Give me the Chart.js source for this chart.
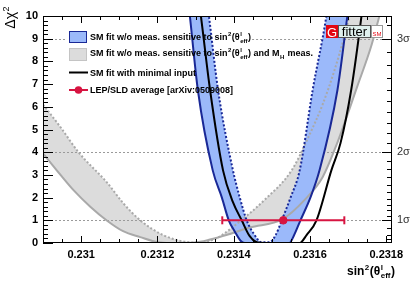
<!DOCTYPE html>
<html>
<head>
<meta charset="utf-8">
<script src="https://cdn.jsdelivr.net/npm/chart.js@4.4.0/dist/chart.umd.min.js"></script>
<style>
  html, body { margin: 0; padding: 0; background: #fff; }
  #wrap { width: 415px; height: 281px; }
</style>
</head>
<body>
<div id="wrap"><canvas id="chi2Chart" width="415" height="281"></canvas></div>
<script>
// Delta chi2 scans vs sin^2(theta_eff^l)
const xTicks = [0.231, 0.2312, 0.2314, 0.2316, 0.2318];
const yTicks = [0, 1, 2, 3, 4, 5, 6, 7, 8, 9, 10];
const sigmaTicks = [1, 4, 9];
const sigmaLabels = ['1σ', '2σ', '3σ'];

// grey band: SM fit w/o meas. sensitive to sin2 and MH meas.
const greyOuterX = [0.2309, 0.230946, 0.230980, 0.231024, 0.231069, 0.231110, 0.231155, 0.231202, 0.231233, 0.231298, 0.231338, 0.231390, 0.231442, 0.231528, 0.231586, 0.231633, 0.231669, 0.231724, 0.231761, 0.231782, 0.231802];
const greyOuterY = [3.95, 3.0, 2.33, 1.6, 0.97, 0.52, 0.26, 0.03, 0, 0.02, 0.15, 0.4, 0.68, 1.05, 1.9, 2.9, 4.3, 6.9, 8.7, 10, 11.2];
const greyInnerX = [0.2309, 0.230946, 0.230993, 0.231069, 0.231110, 0.231155, 0.231215, 0.231278, 0.231312, 0.231356, 0.231416, 0.231481, 0.231552, 0.231594, 0.231633, 0.231664, 0.231690, 0.231703, 0.231716];
const greyInnerY = [6.1, 5.1, 4.0, 2.64, 1.76, 1.0, 0.35, 0.04, 0.02, 0.22, 0.95, 1.9, 3.2, 4.6, 6.1, 7.6, 9.1, 10, 11];

// blue band: SM fit w/o meas. sensitive to sin2
const blueOuterX = [0.231278, 0.231285, 0.231306, 0.231345, 0.231369, 0.231387, 0.231403, 0.231418, 0.231429, 0.231546, 0.231557, 0.231575, 0.231601, 0.231625, 0.231672, 0.231698, 0.231706];
const blueOuterY = [11, 10, 6.74, 3.2, 2.0, 1.0, 0.5, 0.1, 0, 0, 0.3, 1.0, 2.0, 3.2, 6.74, 10, 11];
const blueInnerX = [0.231327, 0.231335, 0.231359, 0.231398, 0.231416, 0.231434, 0.231453, 0.231473, 0.231494, 0.231510, 0.231526, 0.231549, 0.231573, 0.231607, 0.231643, 0.231651];
const blueInnerY = [11, 10, 6.74, 3.2, 2.0, 1.0, 0.4, 0.03, 0.03, 0.35, 1.0, 2.0, 3.2, 6.74, 10, 11];

// black: SM fit with minimal input
const minimalX = [0.231306, 0.231314, 0.231338, 0.231372, 0.231398, 0.231421, 0.231442, 0.231463, 0.231481, 0.231573, 0.231591, 0.231617, 0.231656, 0.231680, 0.231708, 0.231735, 0.231742];
const minimalY = [11, 10, 6.74, 3.2, 1.8, 1.0, 0.3, 0.02, 0, 0, 0.35, 1.0, 3.2, 4.4, 6.74, 10, 11];

// LEP/SLD average
const lepSldX = [0.23153];
const lepSldErr = [0.00016];
const lepSldY = [1];

const yMax = 10;
const greyFill = '#dcdcdc';
const greyLine = '#a9a9a9';
const blueFill = 'rgb(155,185,250)';
const blueLine = 'rgb(25,40,150)';
const red = 'rgb(215,20,65)';
const fontFam = "'Liberation Sans', Arial, sans-serif";

const toPoints = (xs, ys) => xs.map((x, i) => ({ x: x, y: ys[i] }));

// inner edge of a band, closed off above the frame so the fill reaches the top
const bandEdge = (innerX, innerY, outerX) => {
    const pts = toPoints(innerX, innerY);
    const lift = yMax + 1;
    if (outerX[0] < innerX[0]) pts.unshift({ x: outerX[0], y: lift });
    if (outerX[outerX.length - 1] > innerX[innerX.length - 1]) pts.push({ x: outerX[outerX.length - 1], y: lift });
    return pts;
};

// text with super/subscripts, returns end x
function drawRich(ctx, parts, x, y, size, weight, measureOnly) {
    for (const p of parts) {
        if (typeof p === 'string') {
            ctx.font = `${weight} ${size}px ${fontFam}`;
            if (!measureOnly) ctx.fillText(p, x, y);
            x += ctx.measureText(p).width;
        } else {
            ctx.font = `${weight} ${Math.round(size * 0.65)}px ${fontFam}`;
            let w = 0;
            if (p.sup) {
                if (!measureOnly) ctx.fillText(p.sup, x + 0.5, y - size * 0.42);
                w = ctx.measureText(p.sup).width;
            }
            if (p.sub) {
                if (!measureOnly) ctx.fillText(p.sub, x + 0.5, y + size * 0.28);
                w = Math.max(w, ctx.measureText(p.sub).width);
            }
            x += w + 1;
        }
    }
    return x;
}

const sinTheta = ['sin', { sup: '2' }, '(θ', { sup: 'l', sub: 'eff' }, ')'];
const legendRows = [
    ['SM fit w/o meas. sensitive to '].concat(sinTheta),
    ['SM fit w/o meas. sensitive to '].concat(sinTheta, [' and M', { sub: 'H' }, ' meas.']),
    ['SM fit with minimal input'],
    ['LEP/SLD average [arXiv:0509008]']
];
const legendBase = [40, 56, 76, 93];
const legendSym = 69, legendText = 90;

// dashed 1/2/3 sigma lines, drawn just above the grey band
const sigmaLines = {
    id: 'sigmaLines',
    afterDatasetDraw(chart, args) {
        if (args.index !== 1) return;
        const { ctx, chartArea: a, scales: { y } } = chart;
        const row1End = drawRich(ctx, legendRows[0], legendText, 0, 9, 'bold', true);
        ctx.save();
        ctx.strokeStyle = '#9a9a9a';
        ctx.lineWidth = 1;
        ctx.setLineDash([2, 2]);
        sigmaTicks.forEach(v => {
            const py = Math.round(y.getPixelForValue(v)) + 0.5;
            ctx.beginPath();
            if (v === 9) {
                ctx.moveTo(a.left, py); ctx.lineTo(legendSym - 2, py);
                ctx.moveTo(row1End + 1, py); ctx.lineTo(a.right, py);
            } else {
                ctx.moveTo(a.left, py); ctx.lineTo(a.right, py);
            }
            ctx.stroke();
        });
        ctx.restore();
    }
};

const decor = {
    id: 'decor',
    afterDraw(chart) {
        const { ctx, chartArea: a, scales: { x, y } } = chart;
        ctx.save();
        // frame
        ctx.strokeStyle = '#000';
        ctx.lineWidth = 1;
        ctx.strokeRect(a.left + 0.5, a.top + 0.5, a.right - a.left - 1, a.bottom - a.top - 1);
        ctx.beginPath();
        // x ticks (bottom and top)
        const xs = 0.00005;
        for (let k = Math.ceil(x.min / xs - 1e-6); k * xs <= x.max + 1e-9; k++) {
            const px = Math.round(x.getPixelForValue(k * xs)) + 0.5;
            const len = (k % 4 === 0) ? 7 : 4;
            ctx.moveTo(px, a.bottom); ctx.lineTo(px, a.bottom - len);
            ctx.moveTo(px, a.top); ctx.lineTo(px, a.top + len);
        }
        // left ticks
        for (let k = 0; k <= 50; k++) {
            const py = Math.round(y.getPixelForValue(k / 5)) + 0.5;
            const len = (k % 5 === 0) ? 10 : 5;
            ctx.moveTo(a.left, py); ctx.lineTo(a.left + len, py);
        }
        // right ticks in units of sigma
        for (let k = 2; k <= 32; k++) {
            if (k < 10 && k % 2) continue;
            const s = k / 10;
            if (s * s > 10) break;
            const py = Math.round(y.getPixelForValue(s * s)) + 0.5;
            const len = (k % 10 === 0) ? 10 : 5;
            ctx.moveTo(a.right, py); ctx.lineTo(a.right - len, py);
        }
        ctx.stroke();

        // legend
        ctx.fillStyle = blueFill;
        ctx.fillRect(legendSym, 31, 18, 12);
        ctx.strokeStyle = blueLine;
        ctx.strokeRect(legendSym + 0.5, 31.5, 17, 11);
        ctx.fillStyle = greyFill;
        ctx.fillRect(legendSym, 48, 18, 13);
        ctx.strokeStyle = '#c4c4c4';
        ctx.strokeRect(legendSym + 0.5, 48.5, 17, 12);
        ctx.lineWidth = 2;
        ctx.strokeStyle = '#000';
        ctx.beginPath(); ctx.moveTo(legendSym, 72.5); ctx.lineTo(legendSym + 19, 72.5); ctx.stroke();
        ctx.strokeStyle = red;
        ctx.beginPath(); ctx.moveTo(legendSym, 90); ctx.lineTo(legendSym + 19, 90); ctx.stroke();
        ctx.fillStyle = red;
        ctx.beginPath(); ctx.arc(legendSym + 9.5, 90, 3.8, 0, Math.PI * 2); ctx.fill();
        ctx.fillStyle = '#000';
        ctx.textBaseline = 'alphabetic';
        legendRows.forEach((row, i) => drawRich(ctx, row, legendText, legendBase[i], 9, 'bold'));

        // axis titles
        const xtW = drawRich(ctx, sinTheta, 0, 0, 12, 'bold', true);
        drawRich(ctx, sinTheta, 395 - xtW, 275, 12, 'bold');
        ctx.save();
        ctx.translate(15, 6);
        ctx.rotate(-Math.PI / 2);
        const ytW = drawRich(ctx, ['Δχ', { sup: '2' }], 0, 0, 14, 'normal', true);
        drawRich(ctx, ['Δχ', { sup: '2' }], -ytW, 0, 14, 'normal');
        ctx.restore();

        // Gfitter logo
        const gx = a.right - 66, gy = 25;
        ctx.lineWidth = 1;
        ctx.fillStyle = '#e30613';
        ctx.fillRect(gx, gy, 12, 13);
        ctx.fillStyle = '#dff0ee';
        ctx.fillRect(gx + 12, gy, 33, 13);
        ctx.strokeStyle = '#555';
        ctx.strokeRect(gx + 12.5, gy + 0.5, 32, 12);
        ctx.fillStyle = '#fff';
        ctx.fillRect(gx + 45, gy, 12, 13);
        ctx.strokeStyle = '#999';
        ctx.strokeRect(gx + 45.5, gy + 0.5, 11, 12);
        ctx.textAlign = 'center';
        ctx.fillStyle = '#fff';
        ctx.font = `13px ${fontFam}`;
        ctx.fillText('G', gx + 6, gy + 11.5);
        ctx.fillStyle = '#000';
        ctx.fillText('fitter', gx + 28.5, gy + 11);
        ctx.fillStyle = '#e30613';
        ctx.font = `6px ${fontFam}`;
        ctx.fillText('SM', gx + 51, gy + 11);
        ctx.restore();
    }
};

const plain = { pointRadius: 0, pointHoverRadius: 0, cubicInterpolationMode: 'monotone', fill: false };

new Chart(document.getElementById('chi2Chart'), {
    type: 'line',
    data: {
        datasets: [
            // 0,1: grey band fill
            { ...plain, data: toPoints(greyOuterX, greyOuterY), borderWidth: 0, order: 10 },
            { ...plain, data: bandEdge(greyInnerX, greyInnerY, greyOuterX), borderWidth: 0, fill: 0, backgroundColor: greyFill, order: 9 },
            // 2,3: blue band fill
            { ...plain, data: toPoints(blueOuterX, blueOuterY), borderWidth: 0, order: 8 },
            { ...plain, data: bandEdge(blueInnerX, blueInnerY, blueOuterX), borderWidth: 0, fill: 2, backgroundColor: blueFill, order: 7 },
            // grey edges
            { ...plain, data: toPoints(greyOuterX, greyOuterY), borderColor: greyLine, borderWidth: 2, order: 6 },
            { ...plain, data: toPoints(greyInnerX, greyInnerY), borderColor: greyLine, borderWidth: 2, borderDash: [2, 2], order: 5 },
            // blue edges
            { ...plain, data: toPoints(blueOuterX, blueOuterY), borderColor: blueLine, borderWidth: 2, order: 4 },
            { ...plain, data: toPoints(blueInnerX, blueInnerY), borderColor: blueLine, borderWidth: 2, borderDash: [2, 2], order: 3 },
            // minimal input
            { ...plain, data: toPoints(minimalX, minimalY), borderColor: '#000', borderWidth: 2, order: 2 },
            // LEP/SLD error bar and point
            {
                data: [{ x: lepSldX[0] - lepSldErr[0], y: lepSldY[0] }, { x: lepSldX[0] + lepSldErr[0], y: lepSldY[0] }],
                borderColor: red, borderWidth: 2, pointStyle: 'line', pointRotation: 90,
                pointRadius: 4, pointBorderWidth: 2, pointBorderColor: red, fill: false, order: 1
            },
            {
                data: toPoints(lepSldX, lepSldY), showLine: false, pointStyle: 'circle',
                pointRadius: 3.8, pointBackgroundColor: red, pointBorderColor: red, pointBorderWidth: 1, order: 0
            }
        ]
    },
    options: {
        responsive: false,
        animation: false,
        events: [],
        layout: { padding: { top: 16, left: 0, right: 0, bottom: 0 } },
        plugins: { legend: { display: false }, tooltip: { enabled: false } },
        scales: {
            x: {
                type: 'linear',
                min: 0.2309,
                max: 0.231815,
                afterBuildTicks: s => { s.ticks = xTicks.map(v => ({ value: v })); },
                afterFit: s => { s.height = 38; },
                grid: { display: false, drawTicks: false },
                border: { display: false },
                ticks: {
                    autoSkip: false, maxRotation: 0, padding: 5, color: '#000',
                    font: { family: fontFam, size: 11, weight: 'bold' },
                    callback: v => String(v)
                }
            },
            y: {
                min: 0,
                max: yMax,
                afterBuildTicks: s => { s.ticks = yTicks.map(v => ({ value: v })); },
                afterFit: s => { s.width = 43; },
                grid: { display: false, drawTicks: false },
                border: { display: false },
                ticks: {
                    padding: 5, color: '#000',
                    font: { family: fontFam, size: 11, weight: 'bold' }
                }
            },
            y2: {
                position: 'right',
                min: 0,
                max: yMax,
                afterBuildTicks: s => { s.ticks = sigmaTicks.map(v => ({ value: v })); },
                afterFit: s => { s.width = 23; },
                grid: { display: false, drawTicks: false },
                border: { display: false },
                ticks: {
                    padding: 5, color: '#333',
                    font: { family: fontFam, size: 11 },
                    callback: (v, i) => sigmaLabels[sigmaTicks.indexOf(v)]
                }
            }
        }
    },
    plugins: [sigmaLines, decor]
});
</script>
</body>
</html>
